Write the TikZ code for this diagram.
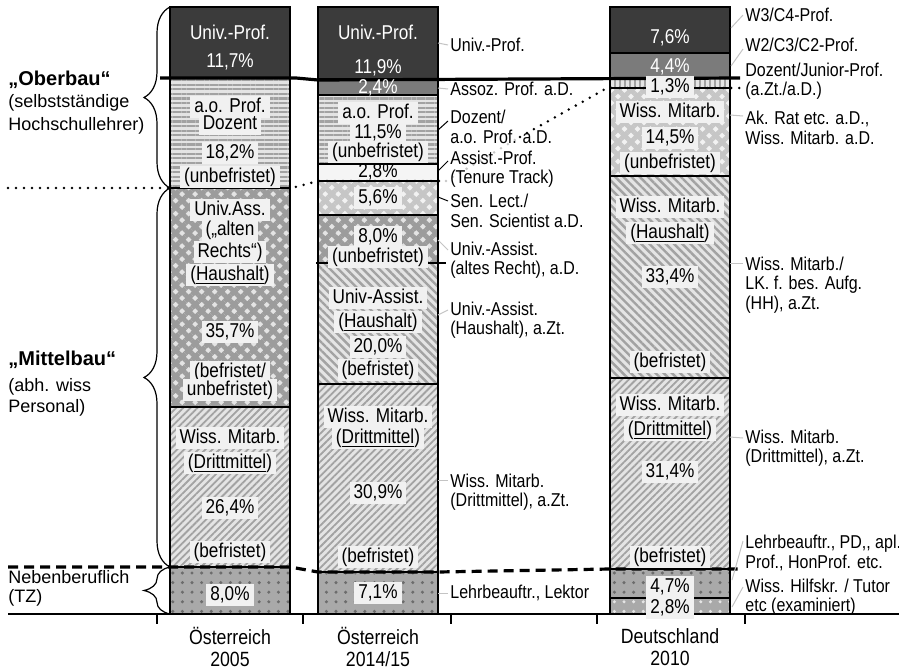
\documentclass[tikz,border=0pt]{standalone}
\usepackage{fontspec}
\setmainfont{Liberation Sans}[FakeStretch=0.86]
\newfontfamily\plainsans{Liberation Sans}
\usetikzlibrary{patterns.meta,decorations.pathreplacing}

\definecolor{profgray}{HTML}{3B3B3B}
\definecolor{midgray}{HTML}{7B7B7B}
\definecolor{boxfill}{HTML}{F1F1F1}
\definecolor{patbg}{HTML}{E4E4E4}
\definecolor{patline}{HTML}{A2A2A2}
\definecolor{checkline}{HTML}{9C9C9C}
\definecolor{checkpale}{HTML}{C6C6C6}
\definecolor{dotbg}{HTML}{A9A9A9}
\definecolor{dotdark}{HTML}{6C6C6C}
\definecolor{leadgray}{HTML}{C4C4C4}

\newcommand\barfont{\fontsize{10}{10.5}\selectfont}
\newcommand\notefont{\fontsize{9.3}{9.8}\selectfont}
\newcommand\sidefont{\plainsans\fontsize{9}{10.5}\selectfont}

\begin{document}
\begin{tikzpicture}[x=0.5pt, y=-0.5pt,
    bar/.style={draw=black, line width=0.7pt},
    prof/.style={fill=profgray},
    assoz/.style={fill=midgray},
    plainseg/.style={fill=white!96!black},
    hlines/.style={preaction={fill=patbg}, pattern={Lines[angle=0,distance=2.3pt,line width=1.1pt]}, pattern color=patline},
    vlines/.style={preaction={fill=patbg}, pattern={Lines[angle=90,distance=2.5pt,line width=1.2pt]}, pattern color=patline},
    checks/.style={preaction={fill=patbg}, pattern={Hatch[angle=45,distance=4.6pt,line width=2.4pt]}, pattern color=checkline},
    checkslight/.style={preaction={fill=white!95!black}, pattern={Hatch[angle=45,distance=4.6pt,line width=2.4pt]}, pattern color=checkpale},
    bwd/.style={preaction={fill=patbg}, pattern={Lines[angle=-45,distance=2.9pt,line width=1.2pt]}, pattern color=patline},
    fwd/.style={preaction={fill=patbg}, pattern={Lines[angle=45,distance=2.5pt,line width=0.9pt]}, pattern color=patline},
    dotty/.style={preaction={fill=dotbg}, pattern={Dots[distance=4.8pt,radius=0.85pt]}, pattern color=dotdark},
    dottylight/.style={preaction={fill=dotbg}, pattern={Dots[distance=4.8pt,radius=0.85pt]}, pattern color=white!90!black},
    tag/.style={fill=boxfill, inner xsep=2pt, inner ysep=0.6pt, text height=7.6pt, text depth=2.2pt, font=\barfont},
    wtag/.style={text=white, inner sep=1pt, font=\barfont},
    note/.style={anchor=west, inner sep=0pt, align=left, font=\notefont},
    side/.style={anchor=west, inner sep=0pt, align=left, font=\sidefont},
    head/.style={anchor=west, inner sep=0pt, font=\plainsans\fontsize{10}{12}\selectfont\bfseries},
    cat/.style={align=center, font=\fontsize{10.3}{11}\selectfont},
    lead/.style={draw=leadgray, line width=0.5pt},
    leadblack/.style={draw=black, line width=0.5pt},
    curly/.style={decorate, decoration={brace, amplitude=13pt}, line width=0.6pt},
    mainline/.style={line width=1.6pt},
    sepdots/.style={line width=1.4pt, line cap=round, dash pattern=on 0pt off 4pt},
    sepdash/.style={line width=1.6pt, dash pattern=on 5pt off 3pt},
    axis/.style={line width=0.8pt}]
\useasboundingbox (0,0) rectangle (899,669);

% bars
\foreach \ya/\yb/\kind in {7/78/prof, 78/188/hlines, 188/407/checks, 407/567/fwd, 567/614/dotty}
    \draw[bar,\kind] (170,\ya) rectangle (290,\yb);
\foreach \ya/\yb/\kind in {7/79/prof, 79/95/assoz, 95/164/hlines, 164/181/plainseg, 181/215/checkslight, 215/263/checks, 263/384/bwd, 384/572/fwd, 572/614/dotty}
    \draw[bar,\kind] (318,\ya) rectangle (438,\yb);
\foreach \ya/\yb/\kind in {7/53/prof, 53/78/assoz, 78/88/vlines, 88/176/checkslight, 176/378/bwd, 378/569/fwd, 569/598/dotty, 598/614/dottylight}
    \draw[bar,\kind] (610,\ya) rectangle (730,\yb);
\draw[bar] (316,263) -- (446,263);

% axis
\draw[axis] (8,614) -- (899,614);
\foreach \tx in {157,303,451,597,745}
    \draw[axis] (\tx,614) -- (\tx,624);

% groups
\draw[curly] (170,188) -- (170,7);
\draw[curly] (170,567) -- (170,188);
\draw[curly] (170,614) -- (170,567);
\draw[mainline] (160,78) -- (296,78) -- (318,80) -- (740,78);
\draw[sepdots] (8,188) -- (292,188) -- (318,181) -- (446,181);
\draw[sepdots, gray!45] (446,181) -- (520,137);
\draw[sepdots] (520,137) -- (607,88) -- (742,88);
\draw[sepdash] (8,567) -- (290,567) -- (318,572) -- (438,572) -- (610,569) -- (742,569);

\node[head] (ob) at (8,80) {„Oberbau“};
\node[side] (ob2) at (8,114) {(selbstständige\\[1pt]Hochschullehrer)};
\node[head] (mb) at (8,360) {„Mittelbau“};
\node[side] (mb2) at (8,397) {(abh. wiss\\Personal)};
\node[side] (nb) at (8,588) {Nebenberuflich\\[-1pt](TZ)};

% Oesterreich 2005
\node[wtag] (u1) at (230,32) {Univ.-Prof.};
\node[wtag] (u1p) at (230,62) {11,7\%};
\node[tag] (a1) at (230,107) {a.o. Prof.};
\node[tag] (a1b) at (230,124) {Dozent};
\node[tag] (a1p) at (230,153) {18,2\%};
\node[tag] (a1c) at (230,177) {(unbefristet)};
\node[tag] (s1) at (230,210) {Univ.Ass.};
\node[tag] (s1b) at (230,230) {(„alten};
\node[tag] (s1c) at (230,252) {Rechts“)};
\node[tag] (s1d) at (230,275) {(\underline{Haushalt})};
\node[tag] (s1p) at (230,332) {35,7\%};
\node[tag] (s1e) at (230,372) {(befristet/};
\node[tag] (s1f) at (230,390) {unbefristet)};
\node[tag] (w1) at (230,438) {Wiss. Mitarb.};
\node[tag] (w1b) at (230,463) {(\underline{Drittmittel})};
\node[tag] (w1p) at (230,508) {26,4\%};
\node[tag] (w1c) at (230,552) {(befristet)};
\node[tag] (n1p) at (230,595) {8,0\%};

% Oesterreich 2014/15
\node[wtag] (u2) at (378,32) {Univ.-Prof.};
\node[wtag] (u2p) at (378,68) {11,9\%};
\node[wtag] (z2p) at (378,88) {2,4\%};
\node[tag] (a2) at (378,113) {a.o. Prof.};
\node[tag] (a2p) at (378,133) {11,5\%};
\node[tag] (a2c) at (378,152) {(unbefristet)};
\node[tag, fill=none] (t2p) at (378,172) {2,8\%};
\node[tag] (l2p) at (378,198) {5,6\%};
\node[tag] (r2p) at (378,237) {8,0\%};
\node[tag] (r2x) at (378,257) {(unbefristet)};
\node[tag] (h2) at (378,298) {Univ-Assist.};
\node[tag] (h2b) at (378,322) {(\underline{Haushalt})};
\node[tag] (h2p) at (378,347) {20,0\%};
\node[tag] (h2c) at (378,370) {(befristet)};
\node[tag] (w2) at (378,417) {Wiss. Mitarb.};
\node[tag] (w2b) at (378,438) {(\underline{Drittmittel})};
\node[tag] (w2p) at (378,493) {30,9\%};
\node[tag] (w2c) at (378,557) {(befristet)};
\node[tag] (n2p) at (378,593) {7,1\%};

% Deutschland 2010
\node[wtag] (u3p) at (670,38) {7,6\%};
\node[wtag] (z3p) at (670,67) {4,4\%};
\node[tag] (d3p) at (670,87) {1,3\%};
\node[tag] (k3) at (670,112) {Wiss. Mitarb.};
\node[tag] (k3p) at (670,138) {14,5\%};
\node[tag] (k3c) at (670,163) {(unbefristet)};
\node[tag] (h3) at (670,207) {Wiss. Mitarb.};
\node[tag] (h3b) at (670,233) {(\underline{Haushalt})};
\node[tag] (h3p) at (670,277) {33,4\%};
\node[tag] (h3c) at (670,362) {(befristet)};
\node[tag] (w3) at (670,405) {Wiss. Mitarb.};
\node[tag] (w3b) at (670,430) {(\underline{Drittmittel})};
\node[tag] (w3p) at (670,472) {31,4\%};
\node[tag] (w3c) at (670,557) {(befristet)};
\node[tag] (n3p) at (670,587) {4,7\%};
\node[tag] (e3p) at (670,608) {2,8\%};

% notes 2014/15
\node[note] (r2a) at (450,45) {Univ.-Prof.};
\node[note] (r2b) at (450,89) {Assoz. Prof. a.D.};
\node[note] (r2c) at (450,127) {Dozent/\\a.o. Prof. a.D.};
\node[note] (r2d) at (450,169) {Assist.-Prof.\\(Tenure Track)};
\node[note] (r2e) at (450,211) {Sen. Lect./\\Sen. Scientist a.D.};
\node[note] (r2f) at (450,260) {Univ.-Assist.\\(altes Recht), a.D.};
\node[note] (r2g) at (450,320) {Univ.-Assist.\\(Haushalt), a.Zt.};
\node[note] (r2h) at (450,492) {Wiss. Mitarb.\\(Drittmittel), a.Zt.};
\node[note] (r2i) at (450,593) {Lehrbeauftr., Lektor};

\coordinate (p2a) at (438,43);
\coordinate (p2b) at (438,88);
\coordinate (p2c) at (438,130);
\coordinate (p2d) at (438,171);
\coordinate (p2e) at (438,197);
\coordinate (p2f) at (438,240);
\coordinate (p2g) at (438,315);
\coordinate (p2h) at (438,480);
\coordinate (p2i) at (438,593);
\draw[lead] (p2a) -- ([xshift=-1pt]r2a.west);
\draw[lead] (p2b) -- ([xshift=-1pt]r2b.west);
\draw[leadblack] (p2c) -- ([xshift=-1pt,yshift=3pt]r2c.west);
\draw[leadblack] (p2d) -- ([xshift=-1pt,yshift=4pt]r2d.west);
\draw[leadblack] (p2e) -- ([xshift=-1pt,yshift=5pt]r2e.west);
\draw[lead] (p2f) -- ([xshift=-1pt,yshift=5pt]r2f.west);
\draw[lead] (p2g) -- ([xshift=-1pt,yshift=5pt]r2g.west);
\draw[lead] (p2h) -- ([xshift=-1pt,yshift=6pt]r2h.west);
\draw[lead] (p2i) -- ([xshift=-1pt]r2i.west);

% notes 2010
\node[note] (r3a) at (745,15) {W3/C4-Prof.};
\node[note] (r3b) at (745,45) {W2/C3/C2-Prof.};
\node[note] (r3c) at (745,81) {Dozent/Junior-Prof.\\(a.Zt./a.D.)};
\node[note] (r3d) at (745,128) {Ak. Rat etc. a.D.,\\Wiss. Mitarb. a.D.};
\node[note] (r3e) at (745,285) {Wiss. Mitarb./\\LK. f. bes. Aufg.\\(HH), a.Zt.};
\node[note] (r3f) at (745,448) {Wiss. Mitarb.\\(Drittmittel), a.Zt.};
\node[note] (r3g) at (745,553) {Lehrbeauftr., PD,{},\ apl.\\Prof., HonProf. etc.};
\node[note] (r3h) at (745,597) {Wiss. Hilfskr. / Tutor\\etc (examiniert)};

\coordinate (p3a) at (731,28);
\coordinate (p3b) at (731,66);
\coordinate (p3d) at (730,115);
\coordinate (p3e) at (730,263);
\coordinate (p3f) at (730,437);
\coordinate (p3g) at (732,580);
\coordinate (p3h) at (732,607);
\draw[lead] (p3a) -- ([xshift=-1pt]r3a.west);
\draw[lead] (p3b) -- ([xshift=-1pt,yshift=-2pt]r3b.west);
\draw[lead] (p3d) -- ([xshift=-1pt,yshift=6pt]r3d.west);
\draw[lead] (p3e) -- ([xshift=-1pt,yshift=11pt]r3e.west);
\draw[lead] (p3f) -- ([xshift=-1pt,yshift=5pt]r3f.west);
\draw[lead] (p3g) -- ([xshift=-1pt,yshift=6pt]r3g.west);
\draw[lead] (p3h) -- ([xshift=-1pt,yshift=5pt]r3h.west);

% categories
\node[cat] (c1) at (230,647) {Österreich\\2005};
\node[cat] (c2) at (378,647) {Österreich\\2014/15};
\node[cat] (c3) at (670,647) {Deutschland\\2010};
\end{tikzpicture}
\end{document}
